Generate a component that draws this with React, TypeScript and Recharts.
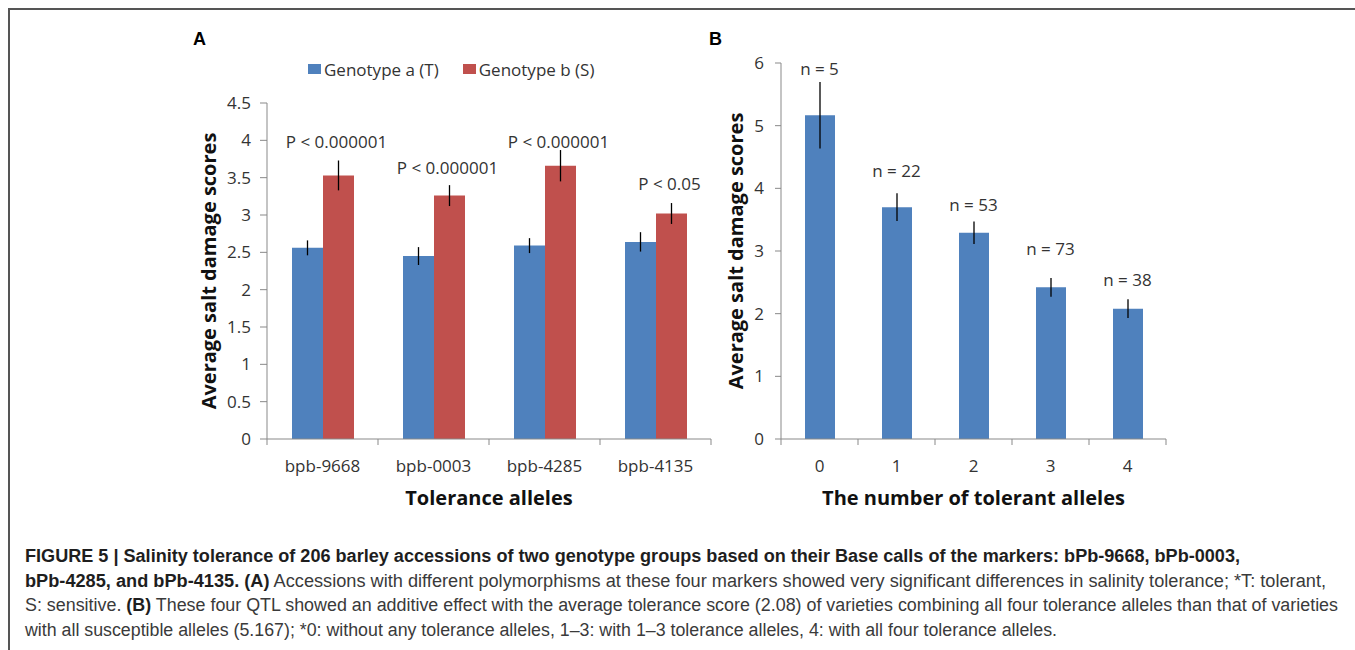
import React from 'react'
import {
  ComposedChart, Bar, Line, XAxis, YAxis, ErrorBar, LabelList, Legend,
} from 'recharts'

// panel A: two genotype groups per marker
const markers = ['bpb-9668', 'bpb-0003', 'bpb-4285', 'bpb-4135']
const genotypeA = [2.56, 2.45, 2.59, 2.64]
const genotypeAErr = [0.1, 0.12, 0.1, 0.13]
const genotypeB = [3.53, 3.26, 3.66, 3.02]
const genotypeBErr = [0.2, 0.14, 0.21, 0.14]
const pValues = ['P < 0.000001', 'P < 0.000001', 'P < 0.000001', 'P < 0.05']
const pLabelY = [3.99, 3.63, 3.99, 3.42]
const ticksA = [0, 0.5, 1, 1.5, 2, 2.5, 3, 3.5, 4, 4.5]

// panel B: number of tolerant alleles
const alleleCounts = ['0', '1', '2', '3', '4']
const meanScore = [5.167, 3.7, 3.29, 2.42, 2.08]
const meanErr = [0.53, 0.22, 0.18, 0.15, 0.15]
const sampleSizes = ['n = 5', 'n = 22', 'n = 53', 'n = 73', 'n = 38']
const nLabelY = [5.92, 4.28, 3.74, 3.04, 2.55]
const ticksB = [0, 1, 2, 3, 4, 5, 6]

const BLUE = '#4F81BD'
const RED = '#C0504D'
const AXIS = '#898989'
const TICK_TXT = '#333'
const FONT = '"Open Sans", sans-serif'

const dataA = markers.map((m, i) => ({
  marker: m,
  a: genotypeA[i],
  aErr: genotypeAErr[i],
  b: genotypeB[i],
  bErr: genotypeBErr[i],
  p: pValues[i],
  pY: pLabelY[i],
}))

const dataB = alleleCounts.map((c, i) => ({
  count: c,
  score: meanScore[i],
  err: meanErr[i],
  n: sampleSizes[i],
  nY: nLabelY[i],
}))

const yTitle = (dx: number) => (props: any) => {
  const { viewBox, value } = props
  const cx = viewBox.x + dx
  const cy = viewBox.y + viewBox.height / 2
  return (
    <text x={cx} y={cy} transform={`rotate(-90 ${cx} ${cy})`} textAnchor="middle"
      dominantBaseline="central" fontSize={20} fontWeight={700} fill="#111" fontFamily={FONT}>
      {value}
    </text>
  )
}

const xTitle = (props: any) => {
  const { viewBox, value } = props
  return (
    <text x={viewBox.x + viewBox.width / 2} y={viewBox.y + 58} textAnchor="middle"
      dominantBaseline="central" fontSize={20} fontWeight={700} fill="#111" fontFamily={FONT}>
      {value}
    </text>
  )
}

// category tick: label under the bar group, tick marks on the category edges (Excel style)
const edgeTick = (fallbackHalf: number) => (props: any) => {
  const { x, y, payload, index, visibleTicksCount } = props
  const half = typeof payload?.offset === 'number' && payload.offset > 0 ? payload.offset : fallbackHalf
  const last = index === visibleTicksCount - 1
  return (
    <g>
      <line x1={x - half} x2={x - half} y1={y} y2={y + 6} stroke={AXIS} />
      {last && <line x1={x + half} x2={x + half} y1={y} y2={y + 6} stroke={AXIS} />}
      <text x={x} y={y + 21} dy="0.71em" textAnchor="middle" fontSize={17} fill={TICK_TXT} fontFamily={FONT}>
        {payload.value}
      </text>
    </g>
  )
}

const barLabel = (dx: number) => (props: any) => {
  const { x, y, value } = props
  return (
    <text x={x + dx} y={y} textAnchor="middle" dominantBaseline="central"
      fontSize={17} fill={TICK_TXT} fontFamily={FONT}>
      {value}
    </text>
  )
}

const legendA = (props: any) => {
  const items = (props.payload || []).filter((p: any) => p.type !== 'none')
  return (
    <div style={{ display: 'flex', alignItems: 'center', height: 0, fontFamily: FONT, fontSize: 17, color: TICK_TXT, whiteSpace: 'nowrap' }}>
      {items.map((p: any, i: number) => (
        <div key={i} style={{ display: 'flex', alignItems: 'center', marginRight: 24 }}>
          <span style={{ display: 'inline-block', width: 13, height: 10, background: p.color, marginRight: 3 }} />
          <span>{p.value}</span>
        </div>
      ))}
    </div>
  )
}

const tickStyle = { fill: TICK_TXT, fontSize: 17, fontFamily: FONT }

function PanelA() {
  return (
    <ComposedChart width={540} height={500} data={dataA} barGap={0}
      margin={{ top: 83, right: 9, bottom: 0, left: 0 }}>
      <XAxis dataKey="marker" height={81} interval={0} tickLine={false} tickSize={0}
        tickMargin={0} axisLine={{ stroke: AXIS }} tick={edgeTick(55.5)}
        label={{ value: 'Tolerance alleles', content: xTitle }} />
      <YAxis domain={[0, 4.5]} ticks={ticksA} width={87} axisLine={{ stroke: AXIS }}
        tickLine={{ stroke: AXIS }} tickSize={7} tickMargin={9} tick={tickStyle}
        label={{ value: 'Average salt damage scores', content: yTitle(28) }} />
      <Legend verticalAlign="top" content={legendA}
        wrapperStyle={{ top: 49, left: 128, width: 320, height: 0 }} />
      <Bar dataKey="a" name="Genotype a (T)" fill={BLUE} barSize={31} isAnimationActive={false}>
        <ErrorBar dataKey="aErr" width={0} stroke="#000" strokeWidth={1.3} />
      </Bar>
      <Bar dataKey="b" name="Genotype b (S)" fill={RED} barSize={31} isAnimationActive={false}>
        <ErrorBar dataKey="bErr" width={0} stroke="#000" strokeWidth={1.3} />
      </Bar>
      <Line dataKey="pY" stroke="none" dot={false} activeDot={false}
        legendType="none" isAnimationActive={false}>
        <LabelList dataKey="p" content={barLabel(14)} />
      </Line>
    </ComposedChart>
  )
}

function PanelB() {
  return (
    <ComposedChart width={520} height={500} data={dataB}
      margin={{ top: 43, right: 54, bottom: 0, left: 0 }}>
      <XAxis dataKey="count" height={81} interval={0} tickLine={false} tickSize={0}
        tickMargin={0} axisLine={{ stroke: AXIS }} tick={edgeTick(38.5)}
        label={{ value: 'The number of tolerant alleles', content: xTitle }} />
      <YAxis domain={[0, 6]} ticks={ticksB} width={81} axisLine={{ stroke: AXIS }}
        tickLine={{ stroke: AXIS }} tickSize={6} tickMargin={11} tick={tickStyle}
        label={{ value: 'Average salt damage scores', content: yTitle(35) }} />
      <Bar dataKey="score" fill={BLUE} barSize={30} isAnimationActive={false}>
        <ErrorBar dataKey="err" width={0} stroke="#000" strokeWidth={1.3} />
      </Bar>
      <Line dataKey="nY" stroke="none" dot={false} activeDot={false}
        legendType="none" isAnimationActive={false}>
        <LabelList dataKey="n" content={barLabel(0)} />
      </Line>
    </ComposedChart>
  )
}

const captionLines = [
  { w: 1215, parts: [{ t: 'FIGURE 5 | Salinity tolerance of 206 barley accessions of two genotype groups based on their Base calls of the markers: bPb-9668, bPb-0003,', b: true }] },
  { w: 1301, parts: [{ t: 'bPb-4285, and bPb-4135. (A)', b: true }, { t: ' Accessions with different polymorphisms at these four markers showed very significant differences in salinity tolerance; *T: tolerant,', b: false }] },
  { w: 1313, parts: [{ t: 'S: sensitive. ', b: false }, { t: '(B)', b: true }, { t: ' These four QTL showed an additive effect with the average tolerance score (2.08) of varieties combining all four tolerance alleles than that of varieties', b: false }] },
  { w: 1032, parts: [{ t: 'with all susceptible alleles (5.167); *0: without any tolerance alleles, 1–3: with 1–3 tolerance alleles, 4: with all four tolerance alleles.', b: false }] },
]

export default function App() {
  return (
    <div style={{ position: 'absolute', left: 0, top: 0, width: 1355, height: 650, background: '#fff', overflow: 'hidden', fontFamily: FONT }}>
      <div style={{ position: 'absolute', left: 8, top: 8, width: 1400, height: 700, borderTop: '2px solid #555', borderLeft: '2px solid #555' }} />
      <div style={{ position: 'absolute', left: 193, top: 29, fontFamily: '"Liberation Sans", Arial, sans-serif', fontWeight: 700, fontSize: 18, color: '#000' }}>A</div>
      <div style={{ position: 'absolute', left: 709, top: 29, fontFamily: '"Liberation Sans", Arial, sans-serif', fontWeight: 700, fontSize: 18, color: '#000' }}>B</div>
      <div style={{ position: 'absolute', left: 180, top: 20 }}>
        <PanelA />
      </div>
      <div style={{ position: 'absolute', left: 700, top: 20 }}>
        <PanelB />
      </div>
      <svg style={{ position: 'absolute', left: 0, top: 530 }} width={1355} height={120}>
        {captionLines.map((ln, i) => (
          <text key={i} x={25} y={32 + i * 24.5} fontSize={18} fontFamily='"Liberation Sans", Arial, sans-serif'
            textLength={ln.w} lengthAdjust="spacingAndGlyphs" fill="#3a3a3a">
            {ln.parts.map((p, j) => (
              <tspan key={j} fontWeight={p.b ? 700 : 400} fill={p.b ? '#1e1e1e' : '#3a3a3a'}>{p.t}</tspan>
            ))}
          </text>
        ))}
      </svg>
    </div>
  )
}
